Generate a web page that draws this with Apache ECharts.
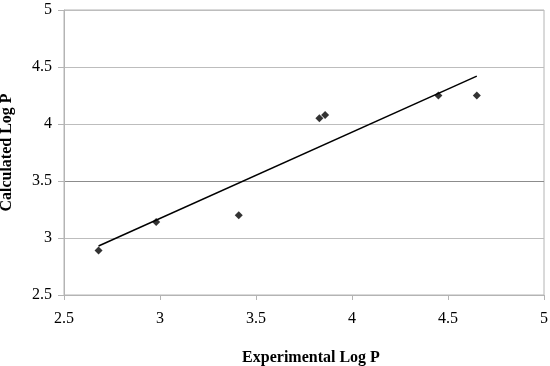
<!DOCTYPE html>
<html><head><meta charset="utf-8">
<script src="https://cdn.jsdelivr.net/npm/echarts@6/dist/echarts.min.js"></script>
<style>html,body{margin:0;padding:0;background:#fff}#c{width:550px;height:366px}</style>
</head><body><div id="c"></div>
<script>
const expLogP = [2.68, 2.98, 3.41, 3.83, 3.86, 4.45, 4.65];
const calcLogP = [2.89, 3.14, 3.20, 4.05, 4.08, 4.25, 4.25];
const trendX = [2.68, 4.65];
const trendY = [2.93, 4.42];
const xTitle = 'Experimental Log P';
const yTitle = 'Calculated Log P';
const font = 'Liberation Serif';
const chart = echarts.init(document.getElementById('c'));
chart.setOption({
  animation: false,
  grid: {left: 64, right: 6, top: 10, bottom: 71, containLabel: false, outerBoundsMode: 'none',
         show: true, borderColor: '#b4b4b4', borderWidth: 1},
  xAxis: {
    type: 'value', min: 2.5, max: 5, interval: 0.5,
    name: xTitle, nameLocation: 'middle', nameGap: 55,
    nameTextStyle: {fontFamily: font, fontWeight: 'bold', fontSize: 16, color: '#000', padding: [0, 0, 0, 14]},
    axisLine: {lineStyle: {color: '#b4b4b4'}},
    axisTick: {show: true, length: 5, lineStyle: {color: '#b4b4b4'}},
    axisLabel: {fontFamily: font, fontSize: 16, color: '#000', margin: 16},
    splitLine: {show: false}
  },
  yAxis: {
    type: 'value', min: 2.5, max: 5, interval: 0.5,
    name: yTitle, nameLocation: 'middle', nameGap: 49, nameRotate: 90,
    nameTextStyle: {fontFamily: font, fontWeight: 'bold', fontSize: 16, color: '#000'},
    axisLine: {show: true, lineStyle: {color: '#b4b4b4'}},
    axisTick: {show: true, length: 6, lineStyle: {color: '#b4b4b4'}},
    axisLabel: {fontFamily: font, fontSize: 16, color: '#000', margin: 12},
    splitLine: {show: true, lineStyle: {color: ['#bdbdbd', '#bdbdbd', '#8c8c8c', '#bdbdbd', '#bdbdbd', '#bdbdbd']}}
  },
  series: [
    {type: 'line', data: trendX.map((x, i) => [x, trendY[i]]), symbol: 'none',
     lineStyle: {color: '#000', width: 1.5}, z: 2},
    {type: 'scatter', data: expLogP.map((x, i) => [x, calcLogP[i]]), symbol: 'diamond', symbolSize: 8,
     itemStyle: {color: '#000'}, z: 3}
  ]
});
</script></body></html>
